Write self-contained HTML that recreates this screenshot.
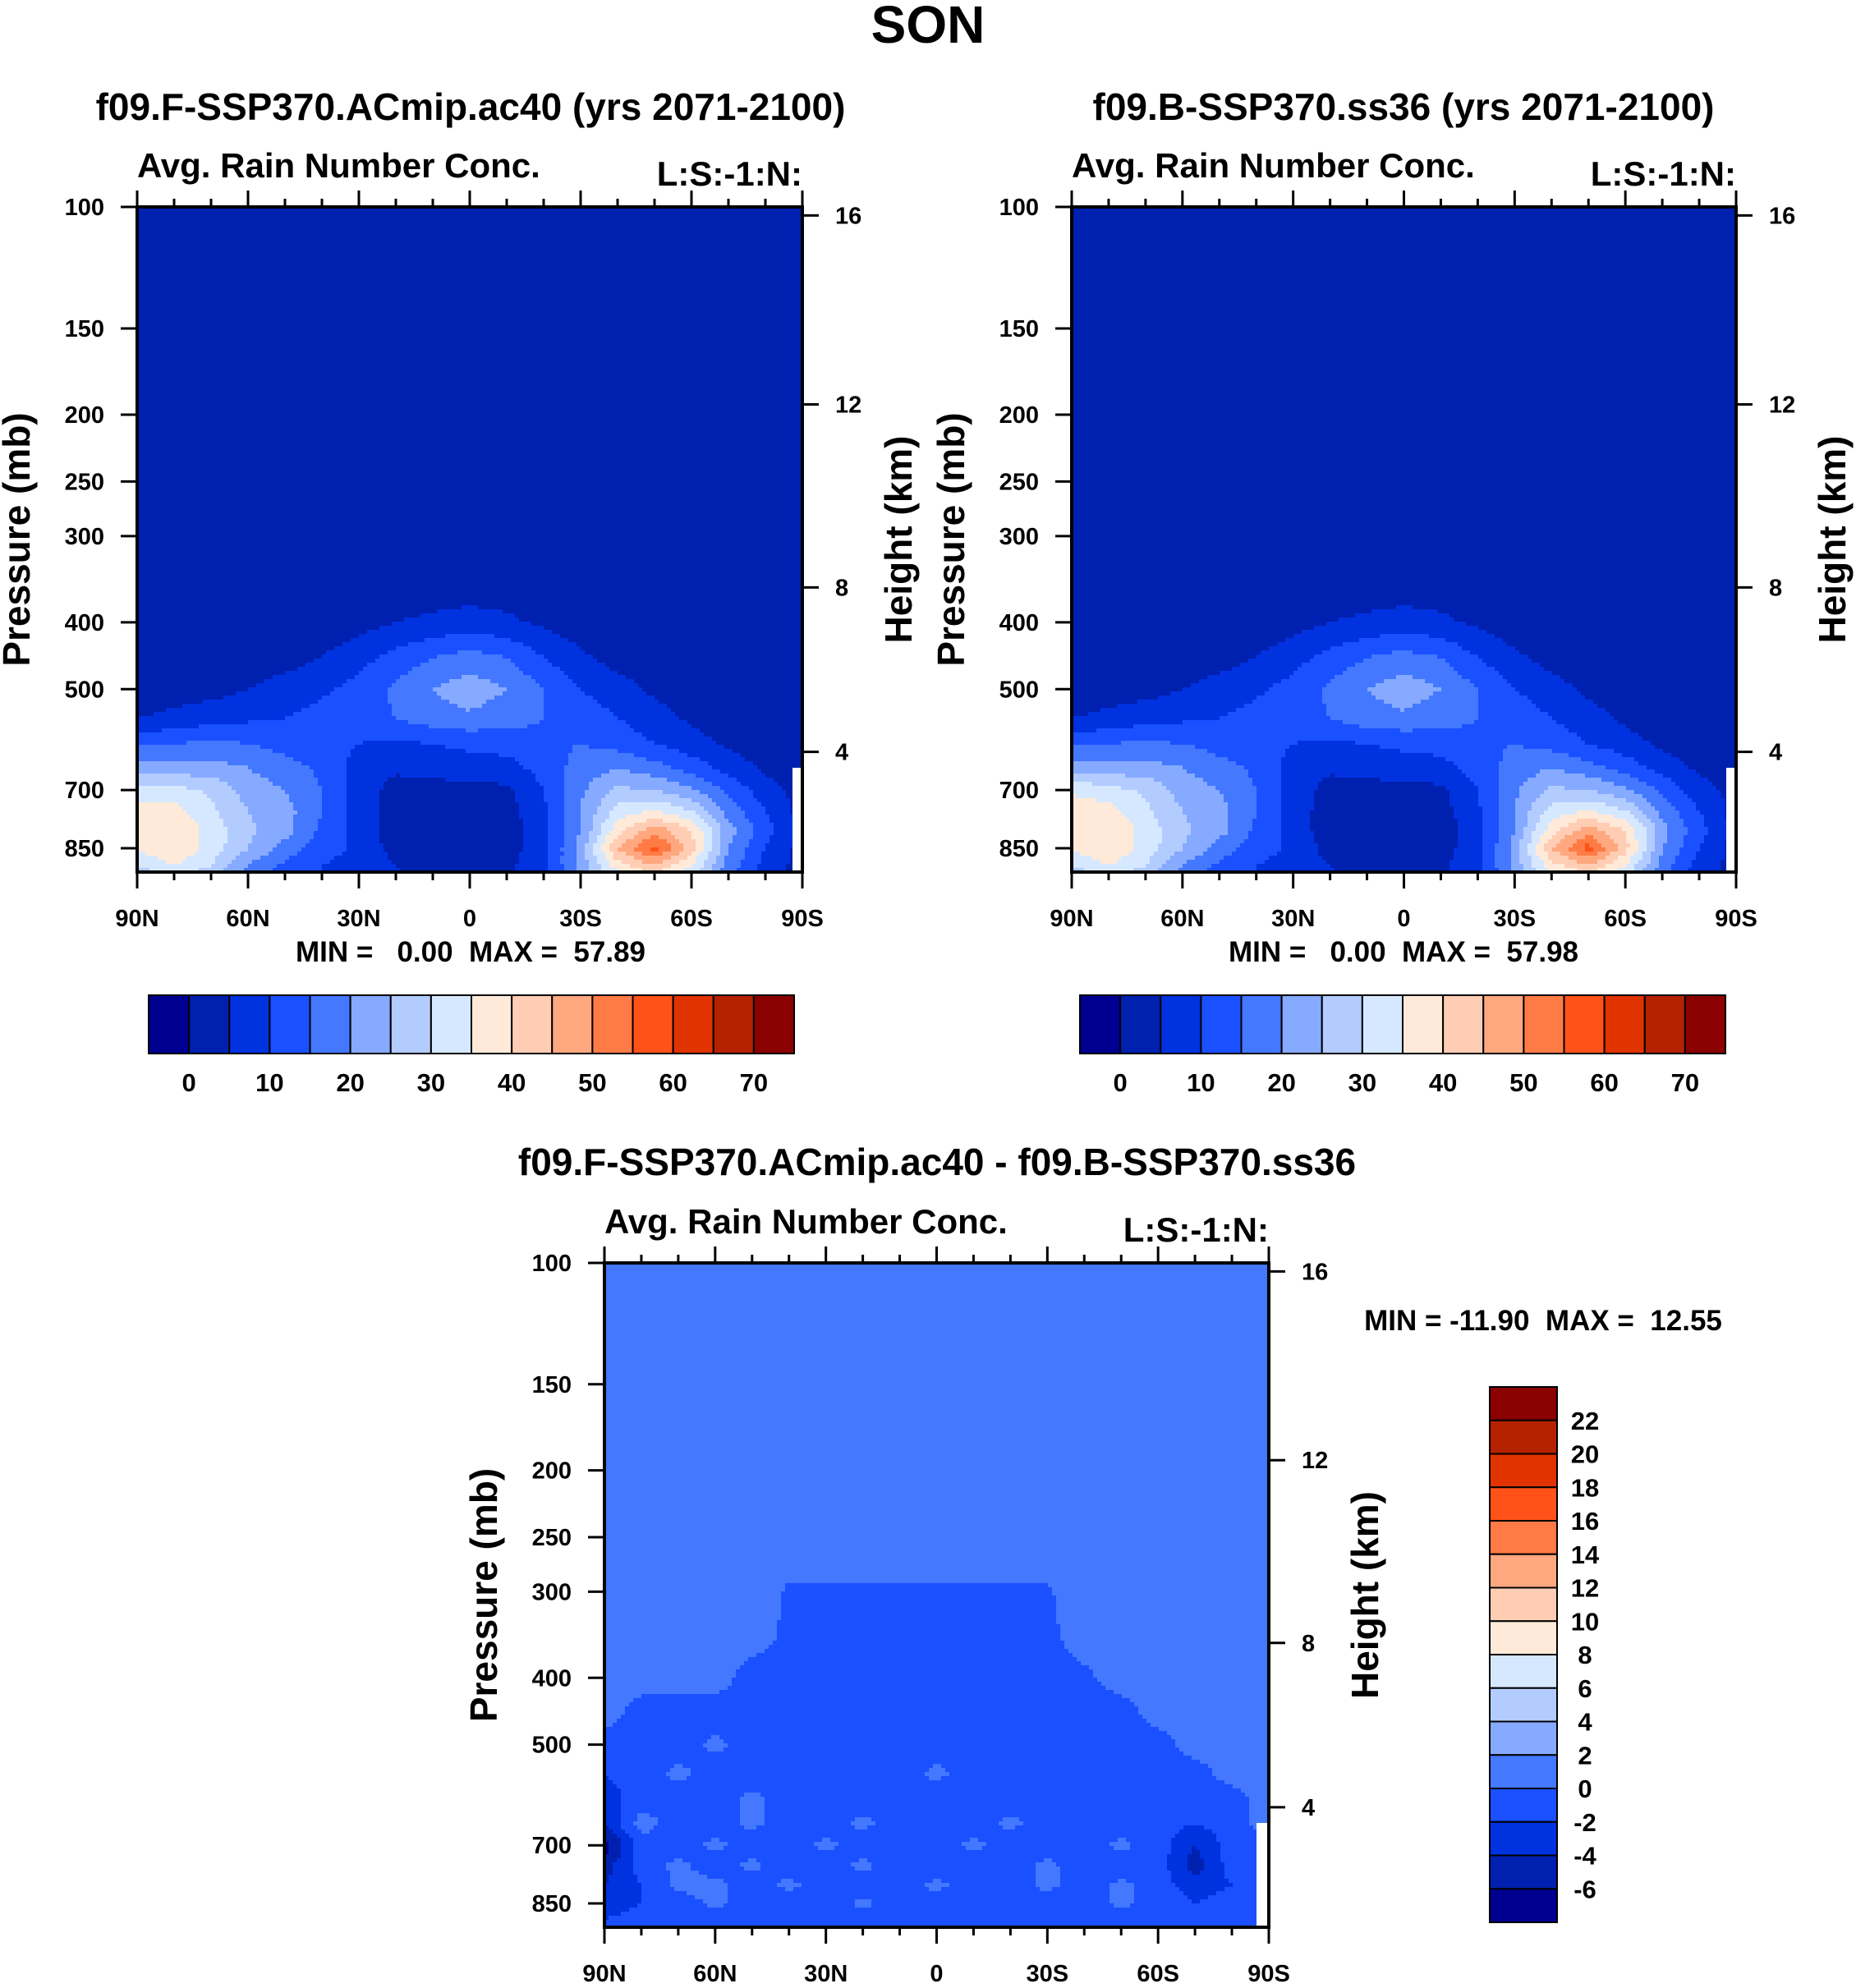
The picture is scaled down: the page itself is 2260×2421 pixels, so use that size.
<!DOCTYPE html>
<html><head><meta charset="utf-8">
<style>
html,body{margin:0;padding:0;background:#fff;}
svg{display:block;font-family:"Liberation Sans",Arial,sans-serif;font-weight:bold;}
text{white-space:pre;}
</style></head>
<body>
<svg id="fig" width="2260" height="2421" viewBox="0 0 2260 2421" xmlns="http://www.w3.org/2000/svg">
<text x="1130" y="52" font-size="64" text-anchor="middle">SON</text>
<text x="573" y="146" font-size="46" text-anchor="middle">f09.F-SSP370.ACmip.ac40 (yrs 2071-2100)</text>
<text x="1709" y="146" font-size="46" text-anchor="middle">f09.B-SSP370.ss36 (yrs 2071-2100)</text>
<text x="1141" y="1431" font-size="46" text-anchor="middle">f09.F-SSP370.ACmip.ac40 - f09.B-SSP370.ss36</text>
</svg>
<script>
// ---- data ----
const lats = ["90N","80N","70N","60N","50N","40N","30N","20N","10N","0","10S","20S","30S","40S","50S","60S","70S","80S","90S"];
const latLabels = ["90N","60N","30N","0","30S","60S","90S"];
const pTicks = [100,150,200,250,300,400,500,700,850];
const zTicks = [16,12,8,4];
const topRowsP = [350,400,450,500,550,600,650,700,750,800,850,900,950];
const fieldA = [
 [2,2,2,2,2,2,2,2,2,2,2,2,2,2,2,2,2,2,2],
 [2,2,2,2,2,2,3,5,6,7,6,4,2,2,2,2,2,2,2],
 [2,2,2,2,3,5,8,12,15,17,15,10,6,3,2,2,2,2,2],
 [2,3,3,5,7,9,12,16,20,23,20,15,10,7,4,2,2,2,2],
 [5,6,8,9,10,12,13,15,18,19,17,15,13,10,7,4,2,2,2],
 [14,15,16,15,13,12,10,9,10,11,12,14,15,13,10,7,4,2,2],
 [22,22,22,20,17,14,8,6,7,8,8,12,17,20,17,13,8,4,2],
 [32,32,29,23,20,15,8,3,3,3,4,10,19,26,25,21,14,7,3],
 [37,37,31,25,22,15,8,2,2,2,3,9,20,32,35,30,18,10,3],
 [38,40,33,26,22,14,8,2,2,2,2,8,20,38,48,40,22,12,3],
 [36,40,33,25,18,12,9,3,2,4,3,8,22,45,57,42,20,10,3],
 [30,35,30,20,14,10,8,5,3,4,4,8,22,38,45,35,18,8,3],
 [25,30,25,15,12,10,8,6,4,4,4,8,20,30,35,28,15,6,3]
];
const fieldB = [
 [2,2,2,2,2,2,2,2,2,2,2,2,2,2,2,2,2,2,2],
 [2,2,2,2,2,2,3,5,6,7,6,4,2,2,2,2,2,2,2],
 [2,2,2,2,3,5,8,12,15,17,15,10,6,3,2,2,2,2,2],
 [2,3,3,5,7,9,12,16,20,23,20,15,10,7,4,2,2,2,2],
 [5,6,8,9,10,12,13,15,18,19,17,15,13,10,7,4,2,2,2],
 [14,15,16,15,13,12,10,9,10,11,12,14,15,13,10,7,4,2,2],
 [23,22,22,20,17,14,8,6,7,8,8,12,17,20,17,13,8,4,2],
 [34,32,29,23,20,15,8,3,3,3,4,10,19,26,25,21,14,7,3],
 [38,37,31,25,22,15,8,2,2,2,3,9,20,32,35,30,18,10,3],
 [38,40,33,26,22,14,8,2,2,2,2,8,20,38,48,40,22,12,3],
 [36,40,33,25,18,12,9,3,2,4,3,8,22,45,57,42,20,10,3],
 [30,35,30,20,14,10,8,5,3,4,4,8,22,38,45,35,18,8,3],
 [25,30,25,15,12,10,8,6,4,4,4,8,20,30,35,28,15,6,3]
];
const diffRowsP = [250,300,350,400,450,500,550,600,650,700,750,800,850,900,950];
const fieldD = [
 [1,1,1,1,1,1,1,1,1,1,1,1,1,1,1,1,1,1,1],
 [1,1,1,1,1,-0.2,-0.2,-0.2,-0.2,-0.2,-0.2,-0.2,-0.2,1,1,1,1,1,1],
 [1,1,1,1,1,-0.5,-0.5,-0.5,-1,-0.5,-1,-0.5,-0.5,1,1,1,1,1,1],
 [1,1,1,1,-1,-1,-1,-1,-1,-1,-1,-1,-1,-0.5,1,1,1,1,1],
 [1,-1,-1,-1,-1,-1,-1,-1,-1,-1,-1,-1,-1,-1,-1,1,1,1,1],
 [-1,-1,-1,0.5,-1,-1,-1,-1,-1,-1,-1,-1,-1,-1,-1,-1,1,1,1],
 [-2,-1,0.5,-1,-1,-1,-1,-1,-1,0.5,-1,-1,-1,-1,-1,-1,-1,1,1],
 [-3,-1,-1,-1,0.5,-1,-1,-1,-1,-1,-1,-1,-1,-1,-1,-1,-1,-1,1],
 [-4,1,-1,-1,0.5,-1,-1,0.5,-1,-1,-1,0.5,-1,-1,-1,-1,-2,-1,1],
 [-7,-1,-1,0.5,-1,-1,0.5,-1,-1,-1,0.5,-1,-1,-1,0.5,-1,-4,-1,-1],
 [-5,-1,0.5,-1,0.5,-1,-1,0.5,-1,-1,-1,-1,0.5,-1,-1,-1,-5,-1,-1],
 [-4,-2,0.5,0.5,-1,0.5,-1,-1,-1,0.5,-1,-1,0.5,-1,0.5,-1,-3,-2,-1],
 [-3,-2,-1,0.5,-1,-1,-1,0.5,-1,-1,-1,-1,-1,-1,0.5,-1,-2,-1,-1],
 [-2,-1,-1,-1,-1,-1,-1,-1,-1,-1,-1,-1,-1,-1,-1,-1,-1,-1,-1],
 [-2,-1,-1,-1,-1,-1,-1,-1,-1,-1,-1,-1,-1,-1,-1,-1,-1,-1,-1]
];
const cbTopLabels = [0,10,20,30,40,50,60,70];
const cbDiffLabels = [22,20,18,16,14,12,10,8,6,4,2,0,-2,-4,-6];
const colors = ["#000090","#0020b0","#0032e0","#1a50ff","#4378ff","#86aaff","#b3ccff","#d6e8ff","#ffead9","#ffcdb4","#ffa880","#ff7b45","#ff5218","#e03300","#b52200","#8b0000"];

// ---- helpers ----
const NS="http://www.w3.org/2000/svg";
const fig=document.getElementById('fig');
function el(tag,attrs,parent){const e=document.createElementNS(NS,tag);for(const k in attrs)e.setAttribute(k,attrs[k]);(parent||fig).appendChild(e);return e;}
const PBOT=100*Math.pow(10,0.964);
function yOfP(p,oy,h){return oy+h*Math.log10(p/100)/Math.log10(PBOT/100);}
function pOfY(y,oy,h){return 100*Math.pow(PBOT/100,(y-oy)/h);}
function pOfZ(z){ // standard atmosphere
  if(z<=11)return 1013.25*Math.pow(1-0.0065*z*1000/288.15,5.2559);
  return 226.32*Math.exp(-(z-11)/6.3416);
}
function latIdx(x,ox,w){return (x-ox)/w*(lats.length-1);}
function sample(field,rowsP,fi,p){
  const lp=Math.log(p);
  let r0,r1,t;
  if(p<=rowsP[0]){r0=r1=0;t=0;}
  else if(p>=rowsP[rowsP.length-1]){r0=r1=rowsP.length-1;t=0;}
  else{for(let i=0;i<rowsP.length-1;i++){if(p>=rowsP[i]&&p<=rowsP[i+1]){r0=i;r1=i+1;t=(lp-Math.log(rowsP[i]))/(Math.log(rowsP[i+1])-Math.log(rowsP[i]));break;}}}
  const c0=Math.max(0,Math.min(lats.length-1,Math.floor(fi)));const c1=Math.min(lats.length-1,c0+1);const s=Math.max(0,Math.min(1,fi-c0));
  const a=field[r0][c0]*(1-s)+field[r0][c1]*s;
  const b=field[r1][c0]*(1-s)+field[r1][c1]*s;
  return a*(1-t)+b*t;
}
function clsTop(v){return v<0?0:Math.min(15,Math.floor(v/5)+1);}
function clsDiff(v){return v<-6?0:Math.min(15,Math.floor((v+6)/2)+1);}

function panel(name,ox,oy,w,h,field,rowsP,cls,missX,missY){
  const g=el('g',{});
  
  
  const step=5;
  const right=ox+w;
  function flush(x0,x1,y,c){
    const r=el('rect',{x:x0,y:y,width:x1-x0+0.6,height:Math.min(step,oy+h-y)+0.6,fill:colors[c]},g);
    
    
  }
  for(let y=oy;y<oy+h;y+=step){
    const p=pOfY(y+step/2,oy,h);
    let runStart=ox,runC=-1;
    for(let x=ox;x<right;x+=step){
      const c=cls(sample(field,rowsP,latIdx(Math.min(x+step/2,right),ox,w),p));
      if(c!==runC){
        if(runC>=0)flush(runStart,x,y,runC);
        runStart=x;runC=c;
      }
    }
    if(runC>=0)flush(runStart,right,y,runC);
  }
  const m=el('rect',{x:missX,y:missY,width:ox+w-missX,height:oy+h-missY,fill:'#fff'},g);
  
  
  const f=el('rect',{x:ox,y:oy,width:w,height:h,fill:'none',stroke:'#000','stroke-width':4});
  
  
  for(let i=0;i<lats.length;i++){
    const x=ox+w*i/(lats.length-1);const major=i%3===0;const L=major?20:10;
    el('line',{x1:x,x2:x,y1:oy,y2:oy-L,stroke:'#000','stroke-width':3});
    el('line',{x1:x,x2:x,y1:oy+h,y2:oy+h+L,stroke:'#000','stroke-width':3});
  }
  latLabels.forEach((t,i)=>{
    const tx=el('text',{x:ox+w*i/(latLabels.length-1),y:oy+h+66,'font-size':29,'text-anchor':'middle'});
    tx.textContent=t;
    
    
  });
  pTicks.forEach(p=>{
    const y=yOfP(p,oy,h);
    el('line',{x1:ox,x2:ox-20,y1:y,y2:y,stroke:'#000','stroke-width':3});
    const tx=el('text',{x:ox-40,y:y+10,'font-size':29,'text-anchor':'end'});
    tx.textContent=p;
    
    
  });
  zTicks.forEach(z=>{
    const y=yOfP(pOfZ(z),oy,h);
    el('line',{x1:ox+w,x2:ox+w+20,y1:y,y2:y,stroke:'#000','stroke-width':3});
    const tx=el('text',{x:ox+w+40,y:y+10,'font-size':29});
    tx.textContent=z;
    
    
  });
  const a=el('text',{x:ox,y:oy-36,'font-size':42});a.textContent='Avg. Rain Number Conc.';
  
  const b=el('text',{x:ox+w,y:oy-26,'font-size':42,'text-anchor':'end'});b.textContent='L:S:-1:N:';
  
  const pl=el('text',{x:0,y:0,'font-size':46,'text-anchor':'middle',transform:`translate(${ox-131},${oy+h*0.5}) rotate(-90)`});pl.textContent='Pressure (mb)';
  
  const hl=el('text',{x:0,y:0,'font-size':46,'text-anchor':'middle',transform:`translate(${ox+w+133},${oy+h*0.5}) rotate(-90)`});hl.textContent='Height (km)';
  
}
function hbar(name,x0,y0,w,h,cx,minmaxText,mmY){
  const n=colors.length,bw=w/n;
  colors.forEach((c,i)=>{
    const r=el('rect',{x:x0+i*bw,y:y0,width:bw,height:h,fill:c,stroke:'#000','stroke-width':2});
    
  });
  cbTopLabels.forEach((v,i)=>{
    const t=el('text',{x:x0+bw*(1+2*i),y:y0+h+46,'font-size':31,'text-anchor':'middle'});t.textContent=v;
    
  });
  const mm=el('text',{x:cx,y:mmY,'font-size':35,'text-anchor':'middle'});mm.textContent=minmaxText;
  
}

panel('left-contour-plot',167,252,810,810,fieldA,topRowsP,clsTop,965,935);
panel('right-contour-plot',1305,252,809,810,fieldB,topRowsP,clsTop,2102,935);
panel('diff-contour-plot',736,1538,809,809,fieldD,diffRowsP,clsDiff,1530,2220);
hbar('left-colorbar',181,1212,786,71,573,'MIN =   0.00  MAX =  57.89',1171);
hbar('right-colorbar',1315,1212,786,71,1709,'MIN =   0.00  MAX =  57.98',1171);
(function(){
  const x0=1814,y0=1689,w=82,h=652,n=colors.length,bh=h/n;
  for(let i=0;i<n;i++){
    const r=el('rect',{x:x0,y:y0+i*bh,width:w,height:bh,fill:colors[n-1-i],stroke:'#000','stroke-width':2});
    
  }
  cbDiffLabels.forEach((v,i)=>{
    const t=el('text',{x:1930,y:y0+bh*(i+1)+11,'font-size':31,'text-anchor':'middle'});t.textContent=v;
    
  });
  const mm=el('text',{x:1879,y:1620,'font-size':35,'text-anchor':'middle'});mm.textContent='MIN = -11.90  MAX =  12.55';
  
})();
</script>
</body></html>
